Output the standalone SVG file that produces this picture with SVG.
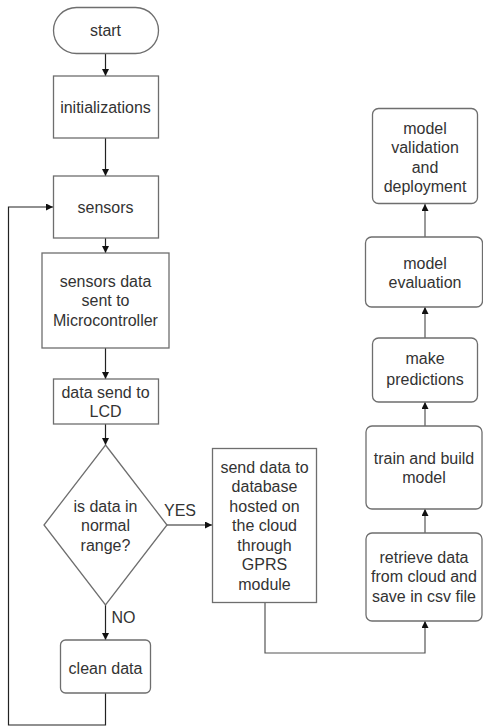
<svg xmlns="http://www.w3.org/2000/svg" width="483" height="726" viewBox="0 0 483 726">
  <defs>
    <marker id="arrow" viewBox="0 0 10 10" refX="10" refY="5" markerWidth="7" markerHeight="7" markerUnits="userSpaceOnUse" orient="auto">
      <path d="M0,0 L10,5 L0,10 z" fill="#111"/>
    </marker>
    <style>
      .box { fill: #fff; stroke: #6e6e6e; stroke-width: 1.3; }
      .lbl { font-family: "Liberation Sans", Arial, sans-serif; font-size: 16px; fill: #333; text-anchor: middle; }
      .edge { fill: none; stroke: #222; stroke-width: 1.2; }
      .edge-r { fill: none; stroke: #555; stroke-width: 1.2; }
    </style>
  </defs>
  <rect width="483" height="726" fill="#fff"/>

  <!-- connectors -->
  <g id="connectors">
    <path class="edge" d="M105.5,53 V76" marker-end="url(#arrow)"/>
    <path class="edge" d="M105.5,138 V176" marker-end="url(#arrow)"/>
    <path class="edge" d="M105.5,238 V253" marker-end="url(#arrow)"/>
    <path class="edge" d="M105.5,348 V379" marker-end="url(#arrow)"/>
    <path class="edge" d="M105.5,424 V445" marker-end="url(#arrow)"/>
    <path class="edge" d="M167,525 H212" marker-end="url(#arrow)"/>
    <path class="edge" d="M105.5,605 V640" marker-end="url(#arrow)"/>
    <path class="edge" d="M105.5,693 V725 H8.5 V207 H53" marker-end="url(#arrow)"/>
    <path class="edge-r" d="M265,603 V653 H425 V621" marker-end="url(#arrow)"/>
    <path class="edge-r" d="M425,533 V509" marker-end="url(#arrow)"/>
    <path class="edge-r" d="M425,426 V402" marker-end="url(#arrow)"/>
    <path class="edge-r" d="M425,338 V307" marker-end="url(#arrow)"/>
    <path class="edge-r" d="M425,237 V204" marker-end="url(#arrow)"/>
    <text class="lbl" x="180" y="516">YES</text>
    <text class="lbl" x="123.5" y="623">NO</text>
  </g>

  <g id="start">
    <rect class="box" x="53.5" y="7.5" width="105" height="46" rx="23" ry="23"/>
    <text class="lbl" x="105.5" y="36">start</text>
  </g>

  <g id="initializations">
    <rect class="box" x="53.5" y="76" width="105" height="62"/>
    <text class="lbl" x="105.5" y="112.5">initializations</text>
  </g>

  <g id="sensors">
    <rect class="box" x="53.5" y="176" width="105" height="62"/>
    <text class="lbl" x="105.5" y="212.5">sensors</text>
  </g>

  <g id="sensors-data">
    <rect class="box" x="42" y="253" width="127" height="95"/>
    <text class="lbl" x="105.5" y="286.5">sensors data</text>
    <text class="lbl" x="105.5" y="306">sent to</text>
    <text class="lbl" x="105.5" y="325.5">Microcontroller</text>
  </g>

  <g id="lcd">
    <rect class="box" x="53.5" y="379" width="105" height="45"/>
    <text class="lbl" x="105.5" y="397.5">data send to</text>
    <text class="lbl" x="105.5" y="417">LCD</text>
  </g>

  <g id="decision">
    <polygon class="box" points="105.5,445 167,525 105.5,605 44,525"/>
    <text class="lbl" x="105.5" y="511.5">is data in</text>
    <text class="lbl" x="105.5" y="531">normal</text>
    <text class="lbl" x="105.5" y="550.5">range?</text>
  </g>

  <g id="clean-data">
    <rect class="box" x="60.5" y="640" width="90" height="53" rx="5" ry="5"/>
    <text class="lbl" x="105.5" y="673.5">clean data</text>
  </g>

  <g id="send-cloud">
    <rect class="box" x="212.5" y="448.5" width="104" height="154"/>
    <text class="lbl" x="264.5" y="472.5">send data to</text>
    <text class="lbl" x="264.5" y="492">database</text>
    <text class="lbl" x="264.5" y="511.5">hosted on</text>
    <text class="lbl" x="264.5" y="531">the cloud</text>
    <text class="lbl" x="264.5" y="550.5">through</text>
    <text class="lbl" x="264.5" y="570">GPRS</text>
    <text class="lbl" x="264.5" y="589.5">module</text>
  </g>

  <g id="retrieve">
    <rect class="box" x="366" y="533" width="116" height="88" rx="6" ry="6"/>
    <text class="lbl" x="424" y="562.5">retrieve data</text>
    <text class="lbl" x="424" y="582">from cloud and</text>
    <text class="lbl" x="424" y="601.5">save in csv file</text>
  </g>

  <g id="train">
    <rect class="box" x="366" y="426" width="116" height="83" rx="6" ry="6"/>
    <text class="lbl" x="424" y="463.5">train and build</text>
    <text class="lbl" x="424" y="483">model</text>
  </g>

  <g id="predictions">
    <rect class="box" x="372.5" y="338" width="105" height="64" rx="6" ry="6"/>
    <text class="lbl" x="425" y="363.5">make</text>
    <text class="lbl" x="425" y="384.5">predictions</text>
  </g>

  <g id="evaluation">
    <rect class="box" x="365.5" y="237" width="117" height="70" rx="6" ry="6"/>
    <text class="lbl" x="425" y="268.5">model</text>
    <text class="lbl" x="425" y="288">evaluation</text>
  </g>

  <g id="validation">
    <rect class="box" x="372.5" y="108.5" width="105" height="95" rx="6" ry="6"/>
    <text class="lbl" x="425" y="133.5">model</text>
    <text class="lbl" x="425" y="153">validation</text>
    <text class="lbl" x="425" y="172.5">and</text>
    <text class="lbl" x="425" y="192">deployment</text>
  </g>
</svg>
